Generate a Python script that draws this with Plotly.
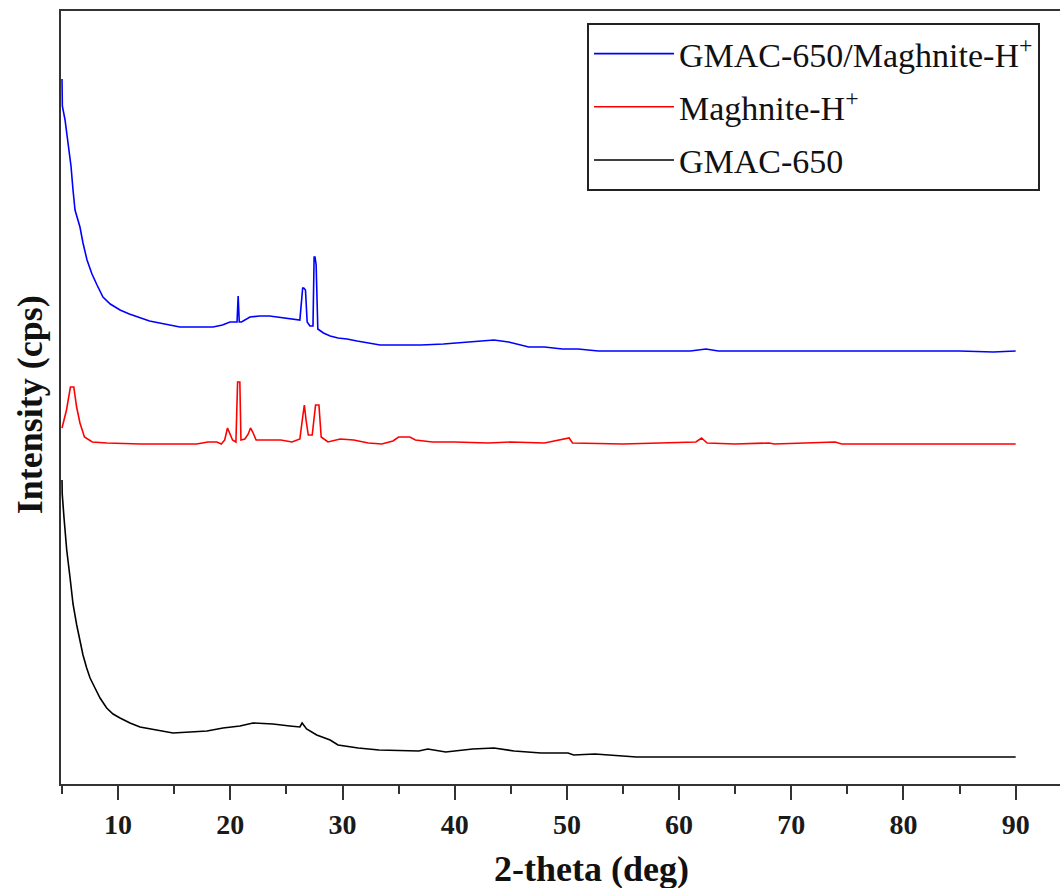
import plotly.graph_objects as go

# ---- data (intensity in arbitrary offset units) ----
blue_x = [5.0, 5.03, 5.27, 5.53, 5.8, 5.98, 6.16, 6.6, 6.87, 7.23, 7.67, 8.12, 8.65, 9.3,
          10.17, 11.0, 11.95, 12.8, 13.7, 14.6, 15.5, 16.5, 17.5, 18.46, 19.3, 19.97, 20.6,
          20.7, 20.8, 21.0, 21.75, 22.6, 23.5, 24.3, 25.05, 25.77, 26.2, 26.45, 26.55, 26.7,
          26.85, 27.1, 27.37, 27.47, 27.55, 27.65, 27.8, 28.3, 28.9, 29.6, 30.4, 31.3, 32.2,
          33.35, 35.0, 37.0, 39.0, 41.2, 42.3, 43.5, 44.8, 46.6, 48.0, 49.6, 51.0, 52.8, 55.0,
          58.0, 61.0, 62.4, 63.5, 66.0, 70.0, 75.0, 80.0, 85.0, 88.0, 90.0]
blue_y = [705, 678, 664, 642, 618, 594, 574, 557, 541, 524, 510, 499, 487, 480,
          474, 470, 466, 463, 461, 459, 457, 457, 457, 457, 459, 462, 462,
          488, 462, 462, 467, 468, 468, 467, 466, 465, 464, 496, 496, 494,
          462, 458, 458, 527, 527, 519, 455, 451, 448, 446, 445, 443, 441,
          439, 439, 439, 440, 442, 443, 444, 442, 437, 437, 435, 435, 433, 433,
          433, 433, 435, 433, 433, 433, 433, 433, 433, 432, 433]

red_x = [5.0, 5.4, 5.75, 6.05, 6.3, 6.6, 7.0, 7.7, 9.0, 12.0, 15.0, 17.0, 18.0, 18.8, 19.2,
         19.5, 19.75, 20.0, 20.2, 20.5, 20.65, 20.85, 20.95, 21.3, 21.6, 21.8, 22.0, 22.3,
         23.0, 24.5, 25.5, 26.2, 26.45, 26.6, 26.75, 26.95, 27.3, 27.6, 27.9, 28.1, 28.7,
         29.8, 31.0, 32.3, 33.5, 34.5, 35.0, 36.0, 36.5, 38.0, 40.0, 43.0, 45.0, 48.0, 50.2,
         50.5, 55.0, 58.0, 61.5, 62.0, 62.5, 65.0, 68.0, 68.5, 72.7, 73.9, 74.5, 90.0]
red_y = [356, 374, 397, 397, 377, 361, 347, 342, 341, 340, 340, 340, 342, 342, 340,
         344, 356, 350, 344, 342, 402, 402, 344, 345, 350, 356, 352, 344,
         344, 344, 342, 345, 367, 379, 364, 349, 349, 379, 379, 347, 342,
         345, 344, 341, 340, 343, 347, 347, 344, 342, 342, 341, 342, 341, 346,
         341, 340, 341, 342, 346, 341, 340, 341, 340, 342, 342, 340, 340]

black_x = [5.0, 5.02, 5.18, 5.42, 5.71, 5.98, 6.31, 6.6, 6.87, 7.2, 7.5, 7.94, 8.39, 8.98,
           9.55, 10.17, 11.06, 11.95, 13.47, 14.89, 16.41, 17.92, 19.35, 20.86, 22.02, 23.8,
           25.3, 26.2, 26.4, 26.8, 27.7, 28.9, 29.6, 31.4, 33.25, 36.8, 37.6, 39.2, 41.6,
           43.5, 45.3, 47.7, 50.1, 50.6, 52.5, 54.9, 56.2, 90.0]
black_y = [304, 290, 266, 234, 207, 180, 159, 144, 129, 116, 106, 96, 86, 76,
           70, 66, 61, 57, 54, 51, 52, 53, 56, 58, 61, 60,
           58, 57, 61, 55, 49, 44, 39, 36, 34, 33, 35, 32, 35,
           36, 33, 31, 31, 29, 30, 28, 27, 27]

x_ticks = [10, 20, 30, 40, 50, 60, 70, 80, 90]
names = ["GMAC-650/Maghnite-H<sup>+</sup>", "Maghnite-H<sup>+</sup>", "GMAC-650"]
colors = ["#0000ff", "#ff0000", "#000000"]

fig = go.Figure()
for i, (xs, ys, nm, c) in enumerate(zip([blue_x, red_x, black_x], [blue_y, red_y, black_y],
                                         names, colors)):
    fig.add_trace(go.Scatter(x=xs, y=ys, mode="lines", name=nm, legendgroup=f"g{i}",
                             line=dict(color=c, width=1.6)))

serif = "Liberation Serif, Times New Roman, serif"
fig.update_layout(
    width=1060, height=888,
    margin=dict(l=61, r=0, t=11, b=104),
    plot_bgcolor="white", paper_bgcolor="white",
    font=dict(family=serif, color="#111111"),
    xaxis=dict(range=[4.91, 93.95], tickvals=x_ticks, ticks="outside", ticklen=14,
               tickwidth=2, tickcolor="#333333", showline=True, linewidth=2,
               linecolor="#333333", mirror=True, showgrid=False, zeroline=False,
               tickfont=dict(family=serif, size=28, color="#1a1a1a", weight="bold"),
               ticklabelstandoff=0,
               minor=dict(ticks="outside", ticklen=8, tickwidth=2, tickcolor="#333333",
                          tick0=5, dtick=10, showgrid=False)),
    yaxis=dict(range=[0, 773], showline=True, linewidth=2, linecolor="#333333",
               mirror=False, showticklabels=False, ticks="", showgrid=False,
               zeroline=False),
    showlegend=True,
    legend=dict(x=0.5265, y=0.9845, xanchor="left", yanchor="top",
                bgcolor="white", bordercolor="#222222", borderwidth=2,
                font=dict(family=serif, size=34, color="#111111"),
                itemwidth=80, tracegroupgap=6),
    annotations=[
        dict(text="<b>2-theta (deg)</b>", xref="paper", yref="paper",
             x=0.5315, y=-0.11, xanchor="center", yanchor="middle", showarrow=False,
             font=dict(family=serif, size=36, color="#111111")),
        dict(text="<b>Intensity (cps)</b>", xref="paper", yref="paper",
             x=-0.031, y=0.49, xanchor="center", yanchor="middle", showarrow=False,
             textangle=-90, font=dict(family=serif, size=36, color="#111111")),
    ],
)

fig.write_html("out.html")
